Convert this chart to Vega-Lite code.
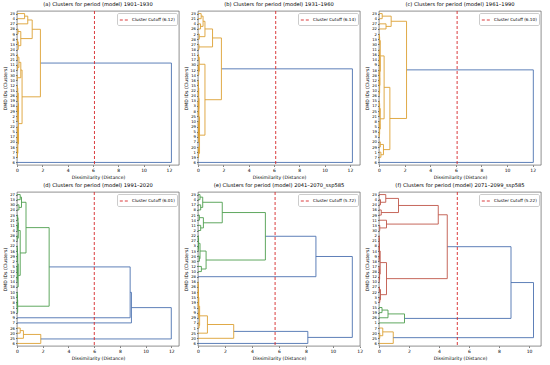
{
"$schema": "https://vega.github.io/schema/vega-lite/v6.json",
"background": "white",
"padding": {"left": 2, "top": 2, "right": 2, "bottom": 2},
"config": {
 "font": "DejaVu Sans",
 "view": {"stroke": "#444", "strokeWidth": 0.6},
 "axis": {"labelFont": "DejaVu Sans", "titleFont": "DejaVu Sans", "labelFontSize": 4.5, "titleFontSize": 4.6, "titleFontWeight": "normal", "labelColor": "#000", "titleColor": "#000", "tickColor": "#000", "tickSize": 1.5, "tickWidth": 0.5, "domain": false, "grid": false, "labelPadding": 1, "titlePadding": 2, "labelOverlap": false, "labelBound": false, "labelFlush": false, "labelSeparation": 0},
 "axisY": {"labelFontSize": 3.8},
 "title": {"font": "DejaVu Sans", "fontSize": 5.2, "fontWeight": "normal", "offset": 3, "color": "#000"},
 "legend": {"orient": "top-right", "offset": 2, "labelFont": "DejaVu Sans", "labelFontSize": 4.2, "labelColor": "#000", "symbolType": "stroke", "symbolStrokeColor": "#d62728", "symbolStrokeWidth": 0.9, "symbolSize": 70, "fillColor": "white", "strokeColor": "#cccccc", "padding": 2, "cornerRadius": 1.5, "labelOffset": 3}
},
"datasets": {
 "links": [
  {"p":"a","ya":295,"yb":285,"h":0.6,"da":0,"db":0,"cl":"C1"},
  {"p":"a","ya":290,"yb":275,"h":0.85,"da":0.6,"db":0,"cl":"C1"},
  {"p":"a","ya":245,"yb":235,"h":0.05,"da":0,"db":0,"cl":"C1"},
  {"p":"a","ya":240,"yb":225,"h":0.1,"da":0.05,"db":0,"cl":"C1"},
  {"p":"a","ya":265,"yb":255,"h":0.08,"da":0,"db":0,"cl":"C1"},
  {"p":"a","ya":260,"yb":232.5,"h":0.3,"da":0.08,"db":0.1,"cl":"C1"},
  {"p":"a","ya":282.5,"yb":246.25,"h":1.2,"da":0.85,"db":0.3,"cl":"C1"},
  {"p":"a","ya":215,"yb":205,"h":0.05,"da":0,"db":0,"cl":"C1"},
  {"p":"a","ya":195,"yb":185,"h":0.05,"da":0,"db":0,"cl":"C1"},
  {"p":"a","ya":210,"yb":190,"h":0.15,"da":0.05,"db":0.05,"cl":"C1"},
  {"p":"a","ya":175,"yb":165,"h":0.02,"da":0,"db":0,"cl":"C1"},
  {"p":"a","ya":200,"yb":170,"h":0.3,"da":0.15,"db":0.02,"cl":"C1"},
  {"p":"a","ya":155,"yb":145,"h":0.03,"da":0,"db":0,"cl":"C1"},
  {"p":"a","ya":135,"yb":125,"h":0.03,"da":0,"db":0,"cl":"C1"},
  {"p":"a","ya":150,"yb":130,"h":0.06,"da":0.03,"db":0.03,"cl":"C1"},
  {"p":"a","ya":115,"yb":105,"h":0.02,"da":0,"db":0,"cl":"C1"},
  {"p":"a","ya":95,"yb":85,"h":0.02,"da":0,"db":0,"cl":"C1"},
  {"p":"a","ya":110,"yb":90,"h":0.05,"da":0.02,"db":0.02,"cl":"C1"},
  {"p":"a","ya":140,"yb":100,"h":0.1,"da":0.06,"db":0.05,"cl":"C1"},
  {"p":"a","ya":75,"yb":65,"h":0.02,"da":0,"db":0,"cl":"C1"},
  {"p":"a","ya":55,"yb":45,"h":0.02,"da":0,"db":0,"cl":"C1"},
  {"p":"a","ya":70,"yb":50,"h":0.05,"da":0.02,"db":0.02,"cl":"C1"},
  {"p":"a","ya":35,"yb":25,"h":0.02,"da":0,"db":0,"cl":"C1"},
  {"p":"a","ya":30,"yb":15,"h":0.04,"da":0.02,"db":0,"cl":"C1"},
  {"p":"a","ya":60,"yb":22.5,"h":0.07,"da":0.05,"db":0.04,"cl":"C1"},
  {"p":"a","ya":120,"yb":41.25,"h":0.12,"da":0.1,"db":0.07,"cl":"C1"},
  {"p":"a","ya":185,"yb":80.63,"h":0.4,"da":0.3,"db":0.12,"cl":"C1"},
  {"p":"a","ya":264.38,"yb":132.81,"h":1.85,"da":1.2,"db":0.4,"cl":"C1"},
  {"p":"a","ya":198.6,"yb":5,"h":12.2,"da":1.85,"db":0,"cl":"C0"},
  {"p":"b","ya":295,"yb":285,"h":0.25,"da":0,"db":0,"cl":"C1"},
  {"p":"b","ya":275,"yb":265,"h":0.2,"da":0,"db":0,"cl":"C1"},
  {"p":"b","ya":290,"yb":270,"h":0.4,"da":0.25,"db":0.2,"cl":"C1"},
  {"p":"b","ya":255,"yb":245,"h":0.1,"da":0,"db":0,"cl":"C1"},
  {"p":"b","ya":280,"yb":250,"h":0.55,"da":0.4,"db":0.1,"cl":"C1"},
  {"p":"b","ya":235,"yb":225,"h":0.08,"da":0,"db":0,"cl":"C1"},
  {"p":"b","ya":265,"yb":230,"h":1.15,"da":0.55,"db":0.08,"cl":"C1"},
  {"p":"b","ya":215,"yb":205,"h":0.05,"da":0,"db":0,"cl":"C1"},
  {"p":"b","ya":195,"yb":185,"h":0.03,"da":0,"db":0,"cl":"C1"},
  {"p":"b","ya":190,"yb":175,"h":0.06,"da":0.03,"db":0,"cl":"C1"},
  {"p":"b","ya":210,"yb":182.5,"h":0.1,"da":0.05,"db":0.06,"cl":"C1"},
  {"p":"b","ya":165,"yb":155,"h":0.02,"da":0,"db":0,"cl":"C1"},
  {"p":"b","ya":145,"yb":135,"h":0.02,"da":0,"db":0,"cl":"C1"},
  {"p":"b","ya":160,"yb":140,"h":0.04,"da":0.02,"db":0.02,"cl":"C1"},
  {"p":"b","ya":125,"yb":115,"h":0.01,"da":0,"db":0,"cl":"C1"},
  {"p":"b","ya":105,"yb":95,"h":0.02,"da":0,"db":0,"cl":"C1"},
  {"p":"b","ya":120,"yb":100,"h":0.03,"da":0.01,"db":0.02,"cl":"C1"},
  {"p":"b","ya":150,"yb":110,"h":0.06,"da":0.04,"db":0.03,"cl":"C1"},
  {"p":"b","ya":85,"yb":75,"h":0.02,"da":0,"db":0,"cl":"C1"},
  {"p":"b","ya":65,"yb":55,"h":0.02,"da":0,"db":0,"cl":"C1"},
  {"p":"b","ya":80,"yb":60,"h":0.04,"da":0.02,"db":0.02,"cl":"C1"},
  {"p":"b","ya":70,"yb":45,"h":0.05,"da":0.04,"db":0,"cl":"C1"},
  {"p":"b","ya":130,"yb":57.5,"h":0.08,"da":0.06,"db":0.05,"cl":"C1"},
  {"p":"b","ya":35,"yb":25,"h":0.03,"da":0,"db":0,"cl":"C1"},
  {"p":"b","ya":30,"yb":15,"h":0.05,"da":0.03,"db":0,"cl":"C1"},
  {"p":"b","ya":93.75,"yb":22.5,"h":0.12,"da":0.08,"db":0.05,"cl":"C1"},
  {"p":"b","ya":196.25,"yb":58.13,"h":0.55,"da":0.1,"db":0.12,"cl":"C1"},
  {"p":"b","ya":247.5,"yb":127.19,"h":1.85,"da":1.15,"db":0.55,"cl":"C1"},
  {"p":"b","ya":187.34,"yb":5,"h":12.2,"da":1.85,"db":0,"cl":"C0"},
  {"p":"c","ya":295,"yb":285,"h":0.25,"da":0,"db":0,"cl":"C1"},
  {"p":"c","ya":275,"yb":265,"h":0.55,"da":0,"db":0,"cl":"C1"},
  {"p":"c","ya":290,"yb":270,"h":0.95,"da":0.25,"db":0.55,"cl":"C1"},
  {"p":"c","ya":255,"yb":245,"h":0.03,"da":0,"db":0,"cl":"C1"},
  {"p":"c","ya":250,"yb":235,"h":0.05,"da":0.03,"db":0,"cl":"C1"},
  {"p":"c","ya":225,"yb":215,"h":0.02,"da":0,"db":0,"cl":"C1"},
  {"p":"c","ya":205,"yb":195,"h":0.02,"da":0,"db":0,"cl":"C1"},
  {"p":"c","ya":220,"yb":200,"h":0.04,"da":0.02,"db":0.02,"cl":"C1"},
  {"p":"c","ya":185,"yb":175,"h":0.01,"da":0,"db":0,"cl":"C1"},
  {"p":"c","ya":165,"yb":155,"h":0.01,"da":0,"db":0,"cl":"C1"},
  {"p":"c","ya":180,"yb":160,"h":0.03,"da":0.01,"db":0.01,"cl":"C1"},
  {"p":"c","ya":145,"yb":135,"h":0.02,"da":0,"db":0,"cl":"C1"},
  {"p":"c","ya":170,"yb":140,"h":0.05,"da":0.03,"db":0.02,"cl":"C1"},
  {"p":"c","ya":210,"yb":155,"h":0.07,"da":0.04,"db":0.05,"cl":"C1"},
  {"p":"c","ya":242.5,"yb":182.5,"h":0.1,"da":0.05,"db":0.07,"cl":"C1"},
  {"p":"c","ya":125,"yb":115,"h":0.02,"da":0,"db":0,"cl":"C1"},
  {"p":"c","ya":105,"yb":95,"h":0.03,"da":0,"db":0,"cl":"C1"},
  {"p":"c","ya":120,"yb":100,"h":0.05,"da":0.02,"db":0.03,"cl":"C1"},
  {"p":"c","ya":85,"yb":75,"h":0.02,"da":0,"db":0,"cl":"C1"},
  {"p":"c","ya":65,"yb":55,"h":0.02,"da":0,"db":0,"cl":"C1"},
  {"p":"c","ya":80,"yb":60,"h":0.05,"da":0.02,"db":0.02,"cl":"C1"},
  {"p":"c","ya":110,"yb":70,"h":0.1,"da":0.05,"db":0.05,"cl":"C1"},
  {"p":"c","ya":212.5,"yb":90,"h":0.4,"da":0.1,"db":0.1,"cl":"C1"},
  {"p":"c","ya":45,"yb":35,"h":0.1,"da":0,"db":0,"cl":"C1"},
  {"p":"c","ya":25,"yb":15,"h":0.15,"da":0,"db":0,"cl":"C1"},
  {"p":"c","ya":40,"yb":20,"h":0.35,"da":0.1,"db":0.15,"cl":"C1"},
  {"p":"c","ya":151.25,"yb":30,"h":0.85,"da":0.4,"db":0.35,"cl":"C1"},
  {"p":"c","ya":280,"yb":90.63,"h":2.15,"da":0.95,"db":0.85,"cl":"C1"},
  {"p":"c","ya":185.31,"yb":5,"h":12.05,"da":2.15,"db":0,"cl":"C0"},
  {"p":"d","ya":295,"yb":285,"h":0.25,"da":0,"db":0,"cl":"C2"},
  {"p":"d","ya":275,"yb":265,"h":0.15,"da":0,"db":0,"cl":"C2"},
  {"p":"d","ya":290,"yb":270,"h":0.35,"da":0.25,"db":0.15,"cl":"C2"},
  {"p":"d","ya":255,"yb":245,"h":0.05,"da":0,"db":0,"cl":"C2"},
  {"p":"d","ya":235,"yb":225,"h":0.03,"da":0,"db":0,"cl":"C2"},
  {"p":"d","ya":250,"yb":230,"h":0.08,"da":0.05,"db":0.03,"cl":"C2"},
  {"p":"d","ya":215,"yb":205,"h":0.02,"da":0,"db":0,"cl":"C2"},
  {"p":"d","ya":240,"yb":210,"h":0.1,"da":0.08,"db":0.02,"cl":"C2"},
  {"p":"d","ya":195,"yb":185,"h":0.02,"da":0,"db":0,"cl":"C2"},
  {"p":"d","ya":175,"yb":165,"h":0.02,"da":0,"db":0,"cl":"C2"},
  {"p":"d","ya":190,"yb":170,"h":0.04,"da":0.02,"db":0.02,"cl":"C2"},
  {"p":"d","ya":155,"yb":145,"h":0.01,"da":0,"db":0,"cl":"C2"},
  {"p":"d","ya":135,"yb":125,"h":0.01,"da":0,"db":0,"cl":"C2"},
  {"p":"d","ya":150,"yb":130,"h":0.03,"da":0.01,"db":0.01,"cl":"C2"},
  {"p":"d","ya":180,"yb":140,"h":0.06,"da":0.04,"db":0.03,"cl":"C2"},
  {"p":"d","ya":160,"yb":115,"h":0.09,"da":0.06,"db":0,"cl":"C2"},
  {"p":"d","ya":225,"yb":137.5,"h":0.25,"da":0.1,"db":0.09,"cl":"C2"},
  {"p":"d","ya":280,"yb":181.25,"h":0.7,"da":0.35,"db":0.25,"cl":"C2"},
  {"p":"d","ya":105,"yb":95,"h":0.02,"da":0,"db":0,"cl":"C2"},
  {"p":"d","ya":85,"yb":75,"h":0.01,"da":0,"db":0,"cl":"C2"},
  {"p":"d","ya":100,"yb":80,"h":0.03,"da":0.02,"db":0.01,"cl":"C2"},
  {"p":"d","ya":90,"yb":65,"h":0.05,"da":0.03,"db":0,"cl":"C2"},
  {"p":"d","ya":230.63,"yb":77.5,"h":2.5,"da":0.7,"db":0.05,"cl":"C2"},
  {"p":"d","ya":154.06,"yb":55,"h":8.8,"da":2.5,"db":0,"cl":"C0"},
  {"p":"d","ya":104.53,"yb":45,"h":8.9,"da":8.8,"db":0,"cl":"C0"},
  {"p":"d","ya":35,"yb":25,"h":0.25,"da":0,"db":0,"cl":"C1"},
  {"p":"d","ya":30,"yb":15,"h":0.5,"da":0.25,"db":0,"cl":"C1"},
  {"p":"d","ya":22.5,"yb":5,"h":1.85,"da":0.5,"db":0,"cl":"C1"},
  {"p":"d","ya":74.77,"yb":13.75,"h":12.0,"da":8.9,"db":1.85,"cl":"C0"},
  {"p":"e","ya":295,"yb":285,"h":0.15,"da":0,"db":0,"cl":"C2"},
  {"p":"e","ya":275,"yb":265,"h":0.2,"da":0,"db":0,"cl":"C2"},
  {"p":"e","ya":290,"yb":270,"h":0.35,"da":0.15,"db":0.2,"cl":"C2"},
  {"p":"e","ya":255,"yb":245,"h":0.1,"da":0,"db":0,"cl":"C2"},
  {"p":"e","ya":235,"yb":225,"h":0.2,"da":0,"db":0,"cl":"C2"},
  {"p":"e","ya":250,"yb":230,"h":0.4,"da":0.1,"db":0.2,"cl":"C2"},
  {"p":"e","ya":280,"yb":240,"h":1.8,"da":0.35,"db":0.4,"cl":"C2"},
  {"p":"e","ya":215,"yb":205,"h":0.02,"da":0,"db":0,"cl":"C2"},
  {"p":"e","ya":195,"yb":185,"h":0.02,"da":0,"db":0,"cl":"C2"},
  {"p":"e","ya":210,"yb":190,"h":0.04,"da":0.02,"db":0.02,"cl":"C2"},
  {"p":"e","ya":175,"yb":165,"h":0.1,"da":0,"db":0,"cl":"C2"},
  {"p":"e","ya":200,"yb":170,"h":0.15,"da":0.04,"db":0.1,"cl":"C2"},
  {"p":"e","ya":155,"yb":145,"h":0.25,"da":0,"db":0,"cl":"C2"},
  {"p":"e","ya":185,"yb":150,"h":0.6,"da":0.15,"db":0.25,"cl":"C2"},
  {"p":"e","ya":260,"yb":167.5,"h":5.0,"da":1.8,"db":0.6,"cl":"C2"},
  {"p":"e","ya":213.75,"yb":135,"h":8.75,"da":5.0,"db":0,"cl":"C0"},
  {"p":"e","ya":125,"yb":115,"h":0.01,"da":0,"db":0,"cl":"C1"},
  {"p":"e","ya":105,"yb":95,"h":0.01,"da":0,"db":0,"cl":"C1"},
  {"p":"e","ya":120,"yb":100,"h":0.02,"da":0.01,"db":0.01,"cl":"C1"},
  {"p":"e","ya":85,"yb":75,"h":0.01,"da":0,"db":0,"cl":"C1"},
  {"p":"e","ya":110,"yb":80,"h":0.03,"da":0.02,"db":0.01,"cl":"C1"},
  {"p":"e","ya":65,"yb":55,"h":0.05,"da":0,"db":0,"cl":"C1"},
  {"p":"e","ya":95,"yb":60,"h":0.06,"da":0.03,"db":0.05,"cl":"C1"},
  {"p":"e","ya":45,"yb":35,"h":0.08,"da":0,"db":0,"cl":"C1"},
  {"p":"e","ya":77.5,"yb":40,"h":0.12,"da":0.06,"db":0.08,"cl":"C1"},
  {"p":"e","ya":58.75,"yb":25,"h":0.7,"da":0.12,"db":0,"cl":"C1"},
  {"p":"e","ya":41.88,"yb":15,"h":2.65,"da":0.7,"db":0,"cl":"C1"},
  {"p":"e","ya":28.44,"yb":5,"h":8.15,"da":2.65,"db":0,"cl":"C0"},
  {"p":"e","ya":174.38,"yb":16.72,"h":11.45,"da":8.75,"db":8.15,"cl":"C0"},
  {"p":"f","ya":285,"yb":275,"h":0.1,"da":0,"db":0,"cl":"C3"},
  {"p":"f","ya":295,"yb":280,"h":0.45,"da":0,"db":0.1,"cl":"C3"},
  {"p":"f","ya":265,"yb":255,"h":0.15,"da":0,"db":0,"cl":"C3"},
  {"p":"f","ya":287.5,"yb":260,"h":1.3,"da":0.45,"db":0.15,"cl":"C3"},
  {"p":"f","ya":235,"yb":225,"h":0.05,"da":0,"db":0,"cl":"C3"},
  {"p":"f","ya":245,"yb":230,"h":0.5,"da":0,"db":0.05,"cl":"C3"},
  {"p":"f","ya":273.75,"yb":237.5,"h":3.95,"da":1.3,"db":0.5,"cl":"C3"},
  {"p":"f","ya":215,"yb":205,"h":0.01,"da":0,"db":0,"cl":"C3"},
  {"p":"f","ya":195,"yb":185,"h":0.01,"da":0,"db":0,"cl":"C3"},
  {"p":"f","ya":210,"yb":190,"h":0.02,"da":0.01,"db":0.01,"cl":"C3"},
  {"p":"f","ya":175,"yb":165,"h":0.01,"da":0,"db":0,"cl":"C3"},
  {"p":"f","ya":200,"yb":170,"h":0.03,"da":0.02,"db":0.01,"cl":"C3"},
  {"p":"f","ya":155,"yb":145,"h":0.01,"da":0,"db":0,"cl":"C3"},
  {"p":"f","ya":135,"yb":125,"h":0.02,"da":0,"db":0,"cl":"C3"},
  {"p":"f","ya":150,"yb":130,"h":0.04,"da":0.01,"db":0.02,"cl":"C3"},
  {"p":"f","ya":185,"yb":140,"h":0.08,"da":0.03,"db":0.04,"cl":"C3"},
  {"p":"f","ya":115,"yb":105,"h":0.03,"da":0,"db":0,"cl":"C3"},
  {"p":"f","ya":95,"yb":85,"h":0.05,"da":0,"db":0,"cl":"C3"},
  {"p":"f","ya":110,"yb":90,"h":0.1,"da":0.03,"db":0.05,"cl":"C3"},
  {"p":"f","ya":162.5,"yb":100,"h":0.5,"da":0.08,"db":0.1,"cl":"C3"},
  {"p":"f","ya":255.63,"yb":131.25,"h":4.55,"da":3.95,"db":0.5,"cl":"C3"},
  {"p":"f","ya":75,"yb":65,"h":0.2,"da":0,"db":0,"cl":"C2"},
  {"p":"f","ya":70,"yb":55,"h":0.6,"da":0.2,"db":0,"cl":"C2"},
  {"p":"f","ya":62.5,"yb":45,"h":1.7,"da":0.6,"db":0,"cl":"C2"},
  {"p":"f","ya":193.44,"yb":53.75,"h":8.8,"da":4.55,"db":1.7,"cl":"C0"},
  {"p":"f","ya":25,"yb":15,"h":0.05,"da":0,"db":0,"cl":"C1"},
  {"p":"f","ya":35,"yb":20,"h":0.25,"da":0,"db":0.05,"cl":"C1"},
  {"p":"f","ya":27.5,"yb":5,"h":0.95,"da":0.25,"db":0,"cl":"C1"},
  {"p":"f","ya":123.59,"yb":16.25,"h":10.3,"da":8.8,"db":0.95,"cl":"C0"}
 ],
 "cuts": [
  {"p":"a","v":6.12,"label":"Cluster Cutoff (6.12)"},
  {"p":"b","v":6.14,"label":"Cluster Cutoff (6.14)"},
  {"p":"c","v":6.10,"label":"Cluster Cutoff (6.10)"},
  {"p":"d","v":6.01,"label":"Cluster Cutoff (6.01)"},
  {"p":"e","v":5.72,"label":"Cluster Cutoff (5.72)"},
  {"p":"f","v":5.22,"label":"Cluster Cutoff (5.22)"}
 ]
},
"columns": 3,
"spacing": {"row": 27, "column": 19},
"bounds": "flush",
"resolve": {"scale": {"strokeDash": "independent", "x": "independent", "y": "independent"}, "axis": {"x": "independent", "y": "independent"}, "legend": {"strokeDash": "independent"}},
"concat": [
 {"title": "(a) Clusters for period (model) 1901–1930", "width": 162, "height": 154,
  "encoding": {
   "y": {"field": "ya", "type": "quantitative", "scale": {"domain": [0, 300], "nice": false}, "axis": {"values": [5,15,25,35,45,55,65,75,85,95,105,115,125,135,145,155,165,175,185,195,205,215,225,235,245,255,265,275,285,295], "labelOverlap": false, "title": "DMD IDs (Clusters)", "labelExpr": "['23','4','27','28','9','8','13','24','25','21','11','14','30','10','12','15','26','19','18','29','2','1','22','5','17','20','16','7','3','6'][(295 - datum.value) / 10]"}},
   "x": {"field": "h", "type": "quantitative", "scale": {"domain": [0, 12.8], "nice": false}, "axis": {"values": [0,2,4,6,8,10,12], "labelOverlap": false, "title": "Dissimilarity (Distance)"}},
   "color": {"field": "cl", "type": "nominal", "scale": {"domain": ["C0","C1","C2","C3"], "range": ["#4C72B0","#DCA033","#4E9E4E","#C0574A"]}, "legend": null}
  },
  "layer": [
   {"data": {"name": "links"}, "transform": [{"filter": "datum.p == 'a'"}], "mark": {"type": "rule", "strokeWidth": 0.9}, "encoding": {"x2": {"field": "da"}}},
   {"data": {"name": "links"}, "transform": [{"filter": "datum.p == 'a'"}], "mark": {"type": "rule", "strokeWidth": 0.9}, "encoding": {"y2": {"field": "yb"}}},
   {"data": {"name": "links"}, "transform": [{"filter": "datum.p == 'a'"}], "mark": {"type": "rule", "strokeWidth": 0.9}, "encoding": {"y": {"field": "yb", "type": "quantitative"}, "x2": {"field": "db"}}},
   {"data": {"name": "cuts"}, "transform": [{"filter": "datum.p == 'a'"}], "mark": {"type": "rule", "color": "#d62728", "strokeWidth": 0.9},
    "encoding": {"x": {"field": "v", "type": "quantitative"}, "y": null, "color": null, "strokeDash": {"field": "label", "type": "nominal", "scale": {"range": [[3, 2]]}, "legend": {"title": null}}}}
  ]},
 {"title": "(b) Clusters for period (model) 1931–1960", "width": 162, "height": 154,
  "encoding": {
   "y": {"field": "ya", "type": "quantitative", "scale": {"domain": [0, 300], "nice": false}, "axis": {"values": [5,15,25,35,45,55,65,75,85,95,105,115,125,135,145,155,165,175,185,195,205,215,225,235,245,255,265,275,285,295], "labelOverlap": false, "title": "DMD IDs (Clusters)", "labelExpr": "['23','21','4','26','2','28','27','18','11','17','30','12','14','16','15','22','24','13','3','8','25','10','29','5','9','7','20','1','19','6'][(295 - datum.value) / 10]"}},
   "x": {"field": "h", "type": "quantitative", "scale": {"domain": [0, 12.8], "nice": false}, "axis": {"values": [0,2,4,6,8,10,12], "labelOverlap": false, "title": "Dissimilarity (Distance)"}},
   "color": {"field": "cl", "type": "nominal", "scale": {"domain": ["C0","C1","C2","C3"], "range": ["#4C72B0","#DCA033","#4E9E4E","#C0574A"]}, "legend": null}
  },
  "layer": [
   {"data": {"name": "links"}, "transform": [{"filter": "datum.p == 'b'"}], "mark": {"type": "rule", "strokeWidth": 0.9}, "encoding": {"x2": {"field": "da"}}},
   {"data": {"name": "links"}, "transform": [{"filter": "datum.p == 'b'"}], "mark": {"type": "rule", "strokeWidth": 0.9}, "encoding": {"y2": {"field": "yb"}}},
   {"data": {"name": "links"}, "transform": [{"filter": "datum.p == 'b'"}], "mark": {"type": "rule", "strokeWidth": 0.9}, "encoding": {"y": {"field": "yb", "type": "quantitative"}, "x2": {"field": "db"}}},
   {"data": {"name": "cuts"}, "transform": [{"filter": "datum.p == 'b'"}], "mark": {"type": "rule", "color": "#d62728", "strokeWidth": 0.9},
    "encoding": {"x": {"field": "v", "type": "quantitative"}, "y": null, "color": null, "strokeDash": {"field": "label", "type": "nominal", "scale": {"range": [[3, 2]]}, "legend": {"title": null}}}}
  ]},
 {"title": "(c) Clusters for period (model) 1961–1990", "width": 162, "height": 154,
  "encoding": {
   "y": {"field": "ya", "type": "quantitative", "scale": {"domain": [0, 300], "nice": false}, "axis": {"values": [5,15,25,35,45,55,65,75,85,95,105,115,125,135,145,155,165,175,185,195,205,215,225,235,245,255,265,275,285,295], "labelOverlap": false, "title": "DMD IDs (Clusters)", "labelExpr": "['23','4','27','22','2','13','30','11','16','14','9','18','28','12','24','10','26','15','17','25','21','8','5','19','3','20','29','1','7','6'][(295 - datum.value) / 10]"}},
   "x": {"field": "h", "type": "quantitative", "scale": {"domain": [0, 12.65], "nice": false}, "axis": {"values": [0,2,4,6,8,10,12], "labelOverlap": false, "title": "Dissimilarity (Distance)"}},
   "color": {"field": "cl", "type": "nominal", "scale": {"domain": ["C0","C1","C2","C3"], "range": ["#4C72B0","#DCA033","#4E9E4E","#C0574A"]}, "legend": null}
  },
  "layer": [
   {"data": {"name": "links"}, "transform": [{"filter": "datum.p == 'c'"}], "mark": {"type": "rule", "strokeWidth": 0.9}, "encoding": {"x2": {"field": "da"}}},
   {"data": {"name": "links"}, "transform": [{"filter": "datum.p == 'c'"}], "mark": {"type": "rule", "strokeWidth": 0.9}, "encoding": {"y2": {"field": "yb"}}},
   {"data": {"name": "links"}, "transform": [{"filter": "datum.p == 'c'"}], "mark": {"type": "rule", "strokeWidth": 0.9}, "encoding": {"y": {"field": "yb", "type": "quantitative"}, "x2": {"field": "db"}}},
   {"data": {"name": "cuts"}, "transform": [{"filter": "datum.p == 'c'"}], "mark": {"type": "rule", "color": "#d62728", "strokeWidth": 0.9},
    "encoding": {"x": {"field": "v", "type": "quantitative"}, "y": null, "color": null, "strokeDash": {"field": "label", "type": "nominal", "scale": {"range": [[3, 2]]}, "legend": {"title": null}}}}
  ]},
 {"title": "(d) Clusters for period (model) 1991–2020", "width": 162, "height": 154,
  "encoding": {
   "y": {"field": "ya", "type": "quantitative", "scale": {"domain": [0, 300], "nice": false}, "axis": {"values": [5,15,25,35,45,55,65,75,85,95,105,115,125,135,145,155,165,175,185,195,205,215,225,235,245,255,265,275,285,295], "labelOverlap": false, "title": "DMD IDs (Clusters)", "labelExpr": "['27','13','30','24','23','21','11','4','28','3','22','16','29','2','5','12','17','14','18','10','15','8','1','19','9','7','26','20','25','6'][(295 - datum.value) / 10]"}},
   "x": {"field": "h", "type": "quantitative", "scale": {"domain": [0, 12.6], "nice": false}, "axis": {"values": [0,2,4,6,8,10,12], "labelOverlap": false, "title": "Dissimilarity (Distance)"}},
   "color": {"field": "cl", "type": "nominal", "scale": {"domain": ["C0","C1","C2","C3"], "range": ["#4C72B0","#DCA033","#4E9E4E","#C0574A"]}, "legend": null}
  },
  "layer": [
   {"data": {"name": "links"}, "transform": [{"filter": "datum.p == 'd'"}], "mark": {"type": "rule", "strokeWidth": 0.9}, "encoding": {"x2": {"field": "da"}}},
   {"data": {"name": "links"}, "transform": [{"filter": "datum.p == 'd'"}], "mark": {"type": "rule", "strokeWidth": 0.9}, "encoding": {"y2": {"field": "yb"}}},
   {"data": {"name": "links"}, "transform": [{"filter": "datum.p == 'd'"}], "mark": {"type": "rule", "strokeWidth": 0.9}, "encoding": {"y": {"field": "yb", "type": "quantitative"}, "x2": {"field": "db"}}},
   {"data": {"name": "cuts"}, "transform": [{"filter": "datum.p == 'd'"}], "mark": {"type": "rule", "color": "#d62728", "strokeWidth": 0.9},
    "encoding": {"x": {"field": "v", "type": "quantitative"}, "y": null, "color": null, "strokeDash": {"field": "label", "type": "nominal", "scale": {"range": [[3, 2]]}, "legend": {"title": null}}}}
  ]},
 {"title": "(e) Clusters for period (model) 2041–2070_ssp585", "width": 162, "height": 154,
  "encoding": {
   "y": {"field": "ya", "type": "quantitative", "scale": {"domain": [0, 300], "nice": false}, "axis": {"values": [5,15,25,35,45,55,65,75,85,95,105,115,125,135,145,155,165,175,185,195,205,215,225,235,245,255,265,275,285,295], "labelOverlap": false, "title": "DMD IDs (Clusters)", "labelExpr": "['23','4','17','8','21','14','11','2','22','27','3','13','24','30','12','10','28','16','26','18','15','19','5','9','29','7','1','25','20','6'][(295 - datum.value) / 10]"}},
   "x": {"field": "h", "type": "quantitative", "scale": {"domain": [0, 12.02], "nice": false}, "axis": {"values": [0,2,4,6,8,10,12], "labelOverlap": false, "title": "Dissimilarity (Distance)"}},
   "color": {"field": "cl", "type": "nominal", "scale": {"domain": ["C0","C1","C2","C3"], "range": ["#4C72B0","#DCA033","#4E9E4E","#C0574A"]}, "legend": null}
  },
  "layer": [
   {"data": {"name": "links"}, "transform": [{"filter": "datum.p == 'e'"}], "mark": {"type": "rule", "strokeWidth": 0.9}, "encoding": {"x2": {"field": "da"}}},
   {"data": {"name": "links"}, "transform": [{"filter": "datum.p == 'e'"}], "mark": {"type": "rule", "strokeWidth": 0.9}, "encoding": {"y2": {"field": "yb"}}},
   {"data": {"name": "links"}, "transform": [{"filter": "datum.p == 'e'"}], "mark": {"type": "rule", "strokeWidth": 0.9}, "encoding": {"y": {"field": "yb", "type": "quantitative"}, "x2": {"field": "db"}}},
   {"data": {"name": "cuts"}, "transform": [{"filter": "datum.p == 'e'"}], "mark": {"type": "rule", "color": "#d62728", "strokeWidth": 0.9},
    "encoding": {"x": {"field": "v", "type": "quantitative"}, "y": null, "color": null, "strokeDash": {"field": "label", "type": "nominal", "scale": {"range": [[3, 2]]}, "legend": {"title": null}}}}
  ]},
 {"title": "(f) Clusters for period (model) 2071–2099_ssp585", "width": 162, "height": 154,
  "encoding": {
   "y": {"field": "ya", "type": "quantitative", "scale": {"domain": [0, 300], "nice": false}, "axis": {"values": [5,15,25,35,45,55,65,75,85,95,105,115,125,135,145,155,165,175,185,195,205,215,225,235,245,255,265,275,285,295], "labelOverlap": false, "title": "DMD IDs (Clusters)", "labelExpr": "['23','4','24','16','29','11','13','30','2','21','8','14','9','18','17','28','12','10','27','22','3','5','15','19','26','1','7','20','25','6'][(295 - datum.value) / 10]"}},
   "x": {"field": "h", "type": "quantitative", "scale": {"domain": [0, 10.8], "nice": false}, "axis": {"values": [0,2,4,6,8,10], "labelOverlap": false, "title": "Dissimilarity (Distance)"}},
   "color": {"field": "cl", "type": "nominal", "scale": {"domain": ["C0","C1","C2","C3"], "range": ["#4C72B0","#DCA033","#4E9E4E","#C0574A"]}, "legend": null}
  },
  "layer": [
   {"data": {"name": "links"}, "transform": [{"filter": "datum.p == 'f'"}], "mark": {"type": "rule", "strokeWidth": 0.9}, "encoding": {"x2": {"field": "da"}}},
   {"data": {"name": "links"}, "transform": [{"filter": "datum.p == 'f'"}], "mark": {"type": "rule", "strokeWidth": 0.9}, "encoding": {"y2": {"field": "yb"}}},
   {"data": {"name": "links"}, "transform": [{"filter": "datum.p == 'f'"}], "mark": {"type": "rule", "strokeWidth": 0.9}, "encoding": {"y": {"field": "yb", "type": "quantitative"}, "x2": {"field": "db"}}},
   {"data": {"name": "cuts"}, "transform": [{"filter": "datum.p == 'f'"}], "mark": {"type": "rule", "color": "#d62728", "strokeWidth": 0.9},
    "encoding": {"x": {"field": "v", "type": "quantitative"}, "y": null, "color": null, "strokeDash": {"field": "label", "type": "nominal", "scale": {"range": [[3, 2]]}, "legend": {"title": null}}}}
  ]}
]
}
